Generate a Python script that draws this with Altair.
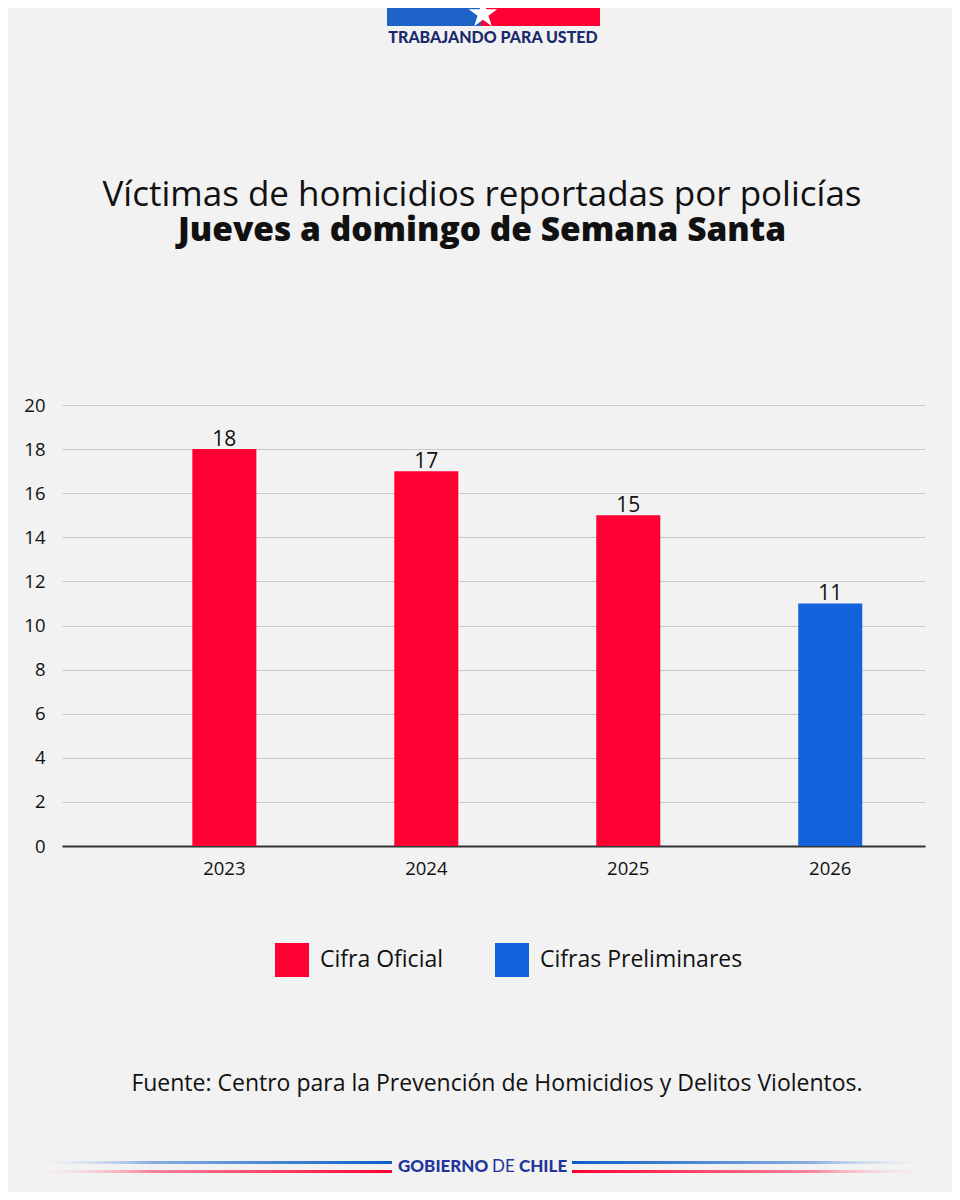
import altair as alt
import pandas as pd

years = ["2023", "2024", "2025", "2026"]
values = [18, 17, 15, 11]
tipos = ["Cifra Oficial", "Cifra Oficial", "Cifra Oficial", "Cifras Preliminares"]
legend_domain = ["Cifra Oficial", "Cifras Preliminares"]
legend_colors = ["#FF0033", "#1262DB"]
y_ticks = [0, 2, 4, 6, 8, 10, 12, 14, 16, 18, 20]

title1 = "Víctimas de homicidios reportadas por policías"
title2 = "Jueves a domingo de Semana Santa"
fuente = "Fuente: Centro para la Prevención de Homicidios y Delitos Violentos."

df = pd.DataFrame({"anio": years, "valor": values, "tipo": tipos})
one = pd.DataFrame({"k": [0]})
FONT = "Open Sans"
NAVY = "#1B2A6B"

base = alt.Chart(df)

bars = base.mark_bar().encode(
    x=alt.X("anio:N", sort=years,
            scale=alt.Scale(paddingInner=0.683, paddingOuter=0.478, align=0.675),
            axis=alt.Axis(title=None, labelAngle=0, ticks=False, domain=True,
                          domainColor="#333333", domainWidth=2, labelPadding=13,
                          labelFontSize=18.5, labelFont=FONT, labelColor="#111111", grid=False)),
    y=alt.Y("valor:Q", scale=alt.Scale(domain=[0, 20], nice=False),
            axis=alt.Axis(title=None, values=y_ticks, ticks=False, domain=False,
                          labelPadding=17, labelFontSize=18.5, labelFont=FONT,
                          labelColor="#111111", gridColor="#C8C8C8", gridWidth=1)),
    color=alt.Color("tipo:N", scale=alt.Scale(domain=legend_domain, range=legend_colors),
                    legend=alt.Legend(title=None, orient="none", legendX=213, legendY=538,
                                      direction="horizontal", symbolType="square",
                                      symbolSize=1156, symbolStrokeWidth=0,
                                      labelFontSize=23, labelFont=FONT, labelColor="#111111",
                                      columnPadding=51, symbolOffset=0, labelOffset=11,
                                      labelLimit=400)),
)

labels = base.mark_text(baseline="alphabetic", dy=-3, fontSize=21, font=FONT, color="#111111").encode(
    x=alt.X("anio:N", sort=years),
    y="valor:Q",
    text="valor:Q",
)

def txt(text, x, y, size, weight="normal", align="center", color="#111111", font=FONT, baseline="alphabetic"):
    return alt.Chart(one).mark_text(text=text, fontSize=size, fontWeight=weight, font=font,
                                    align=align, baseline=baseline, color=color).encode(
        x=alt.value(x), y=alt.value(y))

def rect(x, x2, y, y2, fill):
    return alt.Chart(one).mark_rect(fill=fill).encode(
        x=alt.value(x), x2=alt.value(x2), y=alt.value(y), y2=alt.value(y2))

star_path = "M0,-1L0.224,-0.309L0.951,-0.309L0.363,0.118L0.588,0.809L0,0.382L-0.588,0.809L-0.363,0.118L-0.951,-0.309L-0.224,-0.309Z"

flag_blue = rect(325, 419, -405, -379, "#1E64C8")
flag_red = rect(419, 538, -405, -379, "#FF0033")
star = alt.Chart(one).mark_point(shape=star_path, filled=True, fill="white", size=900, opacity=1).encode(
    x=alt.value(421), y=alt.value(-391))
trabajando = txt("TRABAJANDO PARA USTED", 431, -367, 16, weight=900, color=NAVY, font="Lato", baseline="middle")

t1 = txt(title1, 420, -199, 35)
t2 = txt(title2, 420, -164, 33.5, weight=800)
foot = txt(fuente, 435, 686, 23)

def grad(c, reverse=False):
    stops = [{"offset": 0, "color": "rgba(255,255,255,0)"},
             {"offset": 0.35, "color": c.replace(")", ",0.45)").replace("rgb", "rgba")},
             {"offset": 1, "color": c}]
    if reverse:
        stops = [{"offset": 1 - s["offset"], "color": s["color"]} for s in stops][::-1]
    return {"gradient": "linear", "x1": 0, "x2": 1, "y1": 0, "y2": 0, "stops": stops}

BLUE_L = "rgb(11,94,200)"
RED_L = "rgb(255,0,51)"
l_blue = rect(-42, 330, 756, 759, grad(BLUE_L))
l_red = rect(-42, 330, 765, 768, grad(RED_L))
r_blue = rect(510, 880, 756, 759, grad(BLUE_L, True))
r_red = rect(510, 880, 765, 768, grad(RED_L, True))
gob1 = txt("GOBIERNO", 336, 762, 17, weight=900, align="left", color="#23359A", font="Lato", baseline="middle")
gob2 = txt("DE", 430, 762, 17, weight=400, align="left", color="#23359A", font="Lato", baseline="middle")
gob3 = txt("CHILE", 457, 762, 17, weight=900, align="left", color="#23359A", font="Lato", baseline="middle")

chart = alt.layer(
    bars, labels, flag_blue, flag_red, star, trabajando, t1, t2, foot,
    l_blue, l_red, r_blue, r_red, gob1, gob2, gob3
).properties(
    width=863, height=441,
    autosize=alt.AutoSizeParams(type="none"),
    padding={"left": 54, "top": 397, "right": 27, "bottom": 346},
    background="#F2F2F2",
).configure_view(stroke=None)

chart.save("out.html", embed_options={"renderer": "svg", "actions": False})
